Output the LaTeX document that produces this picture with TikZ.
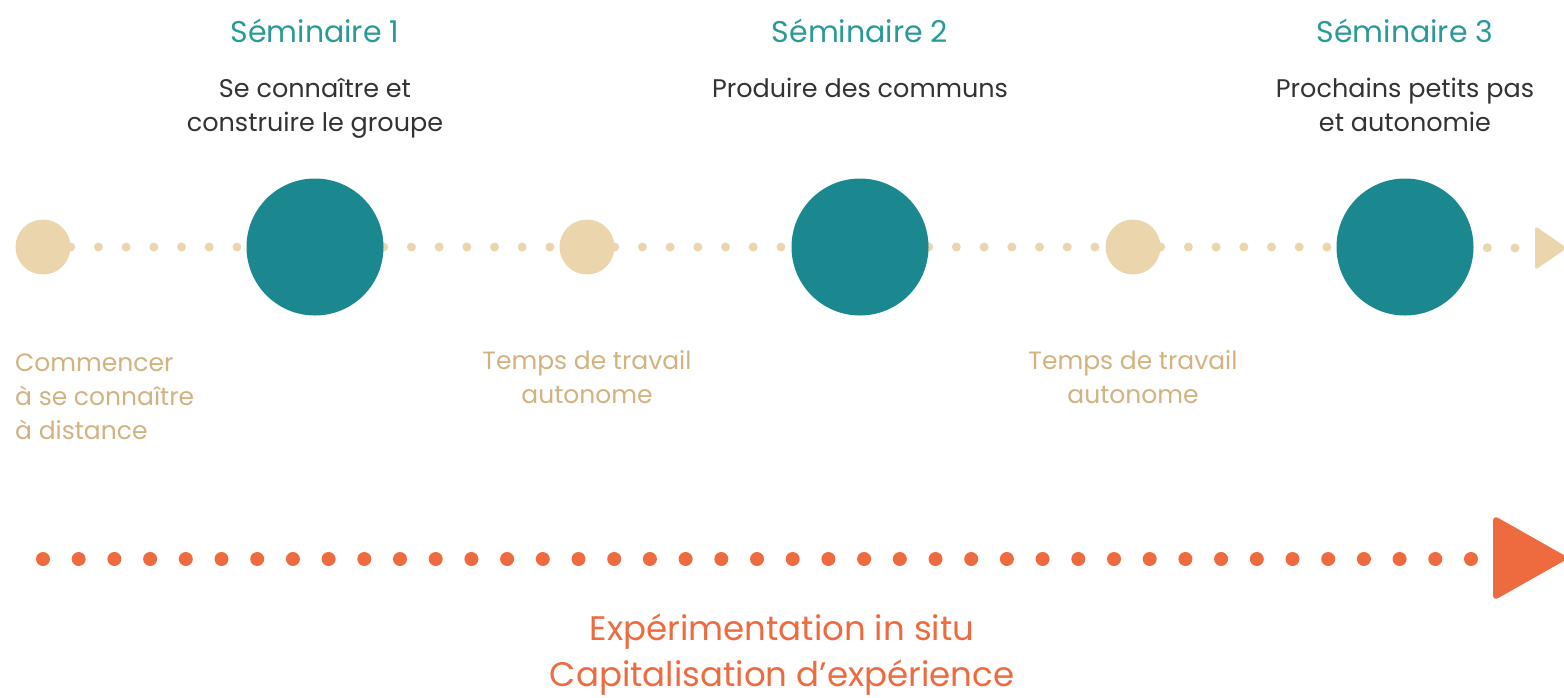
\documentclass[tikz,border=0pt]{standalone}
\usepackage{fontspec}
\setmainfont{Poppins}
\usetikzlibrary{backgrounds}

\definecolor{sarcelle}{HTML}{1B878F}
\definecolor{titre}{HTML}{2A9A98}
\definecolor{sable}{HTML}{EAD5AD}
\definecolor{sabletxt}{HTML}{D2B27F}
\definecolor{corail}{HTML}{EE6A3F}
\definecolor{encre}{HTML}{333333}

\begin{document}
\begin{tikzpicture}[x=1pt,y=-1pt,
  big concept/.style={circle,fill=sarcelle,minimum size=137pt,inner sep=0pt},
  small concept/.style={circle,fill=sable,minimum size=55pt,inner sep=0pt},
  title text/.style={text=titre,inner sep=0pt,anchor=base,font=\fontsize{30}{36}\selectfont},
  theme text/.style={text=encre,inner sep=0pt,anchor=base,align=center,font=\fontsize{25.5}{34}\selectfont},
  side text/.style={text=sabletxt,inner sep=0pt,anchor=base,font=\fontsize{25}{34}\selectfont},
  coral text/.style={text=corail,inner sep=0pt,anchor=base,align=center,font=\fontsize{34}{46}\selectfont},
  sand dots/.style={sable,line width=9pt,line cap=round,dash pattern=on 0pt off 27.7pt},
  coral dots/.style={corail,line width=14pt,line cap=round,dash pattern=on 0pt off 35.7pt}]

  \useasboundingbox (0,0) rectangle (1564,697);

  % the three seminars and the times between them
  \node [small concept] (dist) at (43,247) {};
  \node [big concept] (sem1) at (315,247) {};
  \node [small concept] (aut1) at (587,247) {};
  \node [big concept] (sem2) at (860,247) {};
  \node [small concept] (aut2) at (1133,247) {};
  \node [big concept] (sem3) at (1405,247) {};
  \coordinate (sandend) at (1515,248);
  \fill [sable,rounded corners=3pt] (1535,226) -- (1567,248) -- (1535,270) -- cycle;

  \begin{scope}[on background layer]
    \draw [sand dots] (dist) -- (sem1) (sem1) -- (aut1) (aut1) -- (sem2)
      (sem2) -- (aut2) (aut2) -- (sem3) (sandend) -- (sem3);
  \end{scope}

  \node [title text] (tit1) at (315,42) {Séminaire 1};
  \node [title text] (tit2) at (860,42) {Séminaire 2};
  \node [title text] (tit3) at (1405,42) {Séminaire 3};

  % base of a node of several lines is its last line
  \node [theme text] (the1) at (315,131) {Se connaître et\\construire le groupe};
  \node [theme text] (the2) at (860,97) {Produire des communs};
  \node [theme text] (the3) at (1405,131) {Prochains petits pas\\et autonomie};

  \node [side text,align=left,anchor=base west] (lab0) at (15,439) {Commencer\\à se connaître\\à distance};
  \node [side text,align=center] (lab1) at (587,403) {Temps de travail\\autonome};
  \node [side text,align=center] (lab2) at (1133,403) {Temps de travail\\autonome};

  % experimentation all along
  \coordinate (coralstart) at (43,559);
  \coordinate (coralend) at (1493,559);
  \draw [coral dots] (coralstart) -- (coralend);
  \fill [corail,rounded corners=6pt] (1493,515) -- (1569,558) -- (1493,601) -- cycle;

  \node [coral text] (exp) at (782,686) {Expérimentation in situ\\Capitalisation d’expérience};
\end{tikzpicture}
\end{document}
